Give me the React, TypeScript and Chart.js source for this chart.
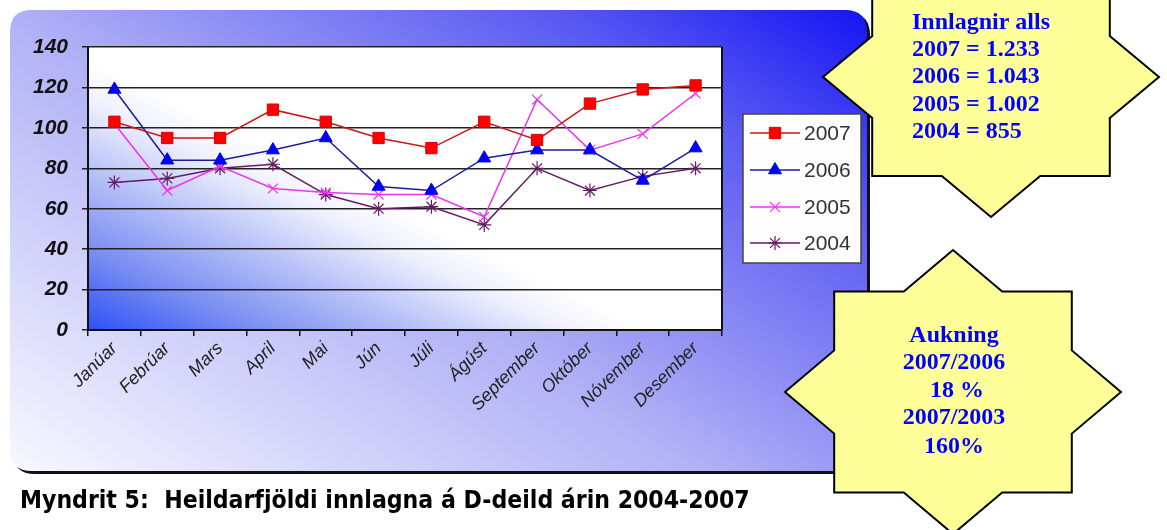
import React, { useEffect, useRef } from "react";
import { Chart, registerables } from "chart.js";
import { drawPoint } from "chart.js/helpers";

Chart.register(...registerables);

const months = ["Janúar", "Febrúar", "Mars", "April", "Mai", "Jún", "Júli", "Ágúst", "September", "Október", "Nóvember", "Desember"];
const y2007 = [103, 95, 95, 109, 103, 95, 90, 103, 94, 112, 119, 121];
const y2006 = [119, 84, 84, 89, 95, 71, 69, 85, 89, 89, 74, 90];
const y2005 = [102, 69, 81, 70, 68, 67, 67, 56, 114, 89, 97, 117];
const y2004 = [73, 75, 80, 82, 67, 60, 61, 52, 80, 69, 76, 80];
const seriesNames = ["2007", "2006", "2005", "2004"];
const yTicks = [0, 20, 40, 60, 80, 100, 120, 140];

const star1Lines = ["Innlagnir alls", "2007 = 1.233", "2006 = 1.043", "2005 = 1.002", "2004 = 855"];
const star2Lines = ["Aukning", "2007/2006", " 18 %", "2007/2003", "160%"];
const caption = "Myndrit 5:  Heildarfjöldi innlagna á D-deild árin 2004-2007";

function roundRect(ctx: CanvasRenderingContext2D, x: number, y: number, w: number, h: number, r: number) {
  ctx.beginPath();
  ctx.moveTo(x + r, y);
  ctx.lineTo(x + w - r, y);
  ctx.quadraticCurveTo(x + w, y, x + w, y + r);
  ctx.lineTo(x + w, y + h - r);
  ctx.quadraticCurveTo(x + w, y + h, x + w - r, y + h);
  ctx.lineTo(x + r, y + h);
  ctx.quadraticCurveTo(x, y + h, x, y + h - r);
  ctx.lineTo(x, y + r);
  ctx.quadraticCurveTo(x, y, x + r, y);
  ctx.closePath();
}

function starPath(ctx: CanvasRenderingContext2D, cx: number, cy: number, rx: number, ry: number) {
  ctx.beginPath();
  for (let k = 0; k < 16; k++) {
    const ang = (k * 22.5 * Math.PI) / 180;
    const r = k % 2 === 0 ? 1 : 0.7654;
    const px = cx + rx * r * Math.cos(ang);
    const py = cy + ry * r * Math.sin(ang);
    if (k === 0) ctx.moveTo(px, py);
    else ctx.lineTo(px, py);
  }
  ctx.closePath();
}

const decorPlugin = {
  id: "decor",
  beforeDraw(chart: any) {
    const ctx: CanvasRenderingContext2D = chart.ctx;
    const ca = chart.chartArea;
    ctx.save();
    ctx.fillStyle = "#ffffff";
    ctx.fillRect(0, 0, chart.width, chart.height);
    // frame shadow
    roundRect(ctx, 13, 13, 857, 461, 22);
    ctx.fillStyle = "#111111";
    ctx.fill();
    // frame gradient
    const g = ctx.createLinearGradient(10, 470, 477, -245);
    g.addColorStop(0, "#f8f8ff");
    g.addColorStop(0.45, "#b0b0f6");
    g.addColorStop(0.8, "#5858f2");
    g.addColorStop(1, "#1414f4");
    roundRect(ctx, 10, 10, 857, 461, 22);
    ctx.fillStyle = g;
    ctx.fill();
    // plot area gradient
    const pg = ctx.createLinearGradient(ca.left, ca.bottom, ca.left + 106, ca.bottom - 219);
    pg.addColorStop(0, "#2c52f6");
    pg.addColorStop(0.3, "#7a8ef2");
    pg.addColorStop(0.6, "#b8c2f8");
    pg.addColorStop(0.85, "#eef0fe");
    pg.addColorStop(1, "#ffffff");
    ctx.fillStyle = pg;
    ctx.fillRect(ca.left, ca.top, ca.right - ca.left, ca.bottom - ca.top);
    ctx.restore();
  },
  afterDraw(chart: any) {
    const ctx: CanvasRenderingContext2D = chart.ctx;
    const ca = chart.chartArea;
    ctx.save();
    // plot right border
    ctx.strokeStyle = "#111111";
    ctx.lineWidth = 2;
    ctx.beginPath();
    ctx.moveTo(ca.right, ca.top);
    ctx.lineTo(ca.right, ca.bottom);
    ctx.stroke();

    // legend
    const lx = 743, ly = 114, lw = 118, lh = 149;
    ctx.fillStyle = "#fdfdfd";
    ctx.fillRect(lx, ly, lw, lh);
    ctx.strokeStyle = "#444444";
    ctx.lineWidth = 1.5;
    ctx.strokeRect(lx, ly, lw, lh);
    const rows = [133, 170, 207, 243];
    chart.data.datasets.forEach((ds: any, i: number) => {
      const yy = rows[i];
      ctx.strokeStyle = ds.borderColor;
      ctx.lineWidth = ds.borderWidth;
      ctx.beginPath();
      ctx.moveTo(750, yy);
      ctx.lineTo(800, yy);
      ctx.stroke();
      ctx.fillStyle = ds.pointBackgroundColor;
      ctx.strokeStyle = ds.pointBorderColor;
      ctx.lineWidth = ds.pointBorderWidth;
      drawPoint(ctx, { pointStyle: ds.pointStyle, rotation: 0, radius: ds.pointRadius, borderWidth: ds.pointBorderWidth }, 775, yy);
      ctx.fillStyle = "#333333";
      ctx.font = '21px "Liberation Sans", Arial, sans-serif';
      ctx.textAlign = "left";
      ctx.textBaseline = "middle";
      ctx.fillText(ds.label, 804, yy + 1);
    });

    // stars
    const drawStar = (cx: number, cy: number, rx: number, ry: number) => {
      starPath(ctx, cx, cy, rx, ry);
      ctx.fillStyle = "#ffff99";
      ctx.fill();
      ctx.strokeStyle = "#000000";
      ctx.lineWidth = 2;
      ctx.stroke();
    };
    drawStar(991, 77, 168, 140);
    drawStar(953, 392, 168, 142);

    ctx.fillStyle = "#0000ff";
    ctx.font = 'bold 24px "Liberation Serif", "Times New Roman", serif';
    ctx.textBaseline = "middle";
    ctx.textAlign = "left";
    const s1y = [23, 50, 77, 105, 132];
    star1Lines.forEach((t, i) => ctx.fillText(t, 912, s1y[i]));
    ctx.textAlign = "center";
    const s2y = [336, 363, 391, 418, 447];
    star2Lines.forEach((t, i) => ctx.fillText(t, 954, s2y[i]));

    // caption, fitted to the reference width
    ctx.fillStyle = "#000000";
    const fam = '"DejaVu Sans Condensed", "DejaVu Sans", sans-serif';
    ctx.font = "bold 24px " + fam;
    const w = ctx.measureText(caption).width;
    const size = Math.min(26, (24 * 730) / w);
    ctx.font = "bold " + size.toFixed(2) + "px " + fam;
    ctx.textAlign = "left";
    ctx.textBaseline = "alphabetic";
    ctx.fillText(caption, 20, 508);
    ctx.restore();
  },
};

export default function App() {
  const ref = useRef<HTMLCanvasElement | null>(null);
  useEffect(() => {
    if (!ref.current) return;
    const chart = new Chart(ref.current, {
      type: "line",
      data: {
        labels: months,
        datasets: [
          { label: seriesNames[0], data: y2007, borderColor: "#cc1515", borderWidth: 1.5, pointStyle: "rect", pointRadius: 8, pointBackgroundColor: "#ff0000", pointBorderColor: "#dd0000", pointBorderWidth: 1 },
          { label: seriesNames[1], data: y2006, borderColor: "#1c1ca0", borderWidth: 1.5, pointStyle: "triangle", pointRadius: 7.5, pointBackgroundColor: "#0000ff", pointBorderColor: "#0000ee", pointBorderWidth: 1 },
          { label: seriesNames[2], data: y2005, borderColor: "#ee33ee", borderWidth: 1.5, pointStyle: "crossRot", pointRadius: 7, pointBackgroundColor: "#ee33ee", pointBorderColor: "#ee33ee", pointBorderWidth: 1.2 },
          { label: seriesNames[3], data: y2004, borderColor: "#641a64", borderWidth: 1.5, pointStyle: "star", pointRadius: 7, pointBackgroundColor: "#641a64", pointBorderColor: "#641a64", pointBorderWidth: 1.2 },
        ] as any,
      },
      options: {
        responsive: false,
        animation: false,
        events: [],
        layout: { padding: { left: 0, top: 47, right: 1167 - 722, bottom: 0 } },
        plugins: { legend: { display: false }, tooltip: { enabled: false } },
        elements: { line: { tension: 0 } },
        scales: {
          x: {
            type: "category",
            offset: true,
            afterFit: (s: any) => { s.height = 200; },
            grid: { offset: true, drawOnChartArea: false, drawTicks: true, tickLength: 6, color: "#111111", lineWidth: 1.5 },
            border: { display: true, color: "#111111", width: 2 },
            ticks: {
              autoSkip: false,
              minRotation: 45,
              maxRotation: 45,
              padding: 2,
              color: "#222222",
              font: { family: '"Liberation Sans", Arial, sans-serif', size: 18, style: "italic" },
            },
          },
          y: {
            min: 0,
            max: 140,
            afterFit: (s: any) => { s.width = 88; },
            afterBuildTicks: (s: any) => { s.ticks = yTicks.map((v) => ({ value: v })); },
            grid: { color: "#222222", lineWidth: 1.5, drawTicks: true, tickLength: 6 },
            border: { display: true, color: "#111111", width: 2 },
            ticks: {
              padding: 14,
              color: "#111111",
              font: { family: '"Liberation Sans", Arial, sans-serif', size: 21, style: "italic", weight: "bold" },
            },
          },
        },
      } as any,
      plugins: [decorPlugin],
    });
    return () => chart.destroy();
  }, []);
  return (
    <div style={{ position: "absolute", left: 0, top: 0, width: 1167, height: 530 }}>
      <canvas ref={ref} width={1167} height={530} style={{ display: "block", width: 1167, height: 530 }} />
    </div>
  );
}
